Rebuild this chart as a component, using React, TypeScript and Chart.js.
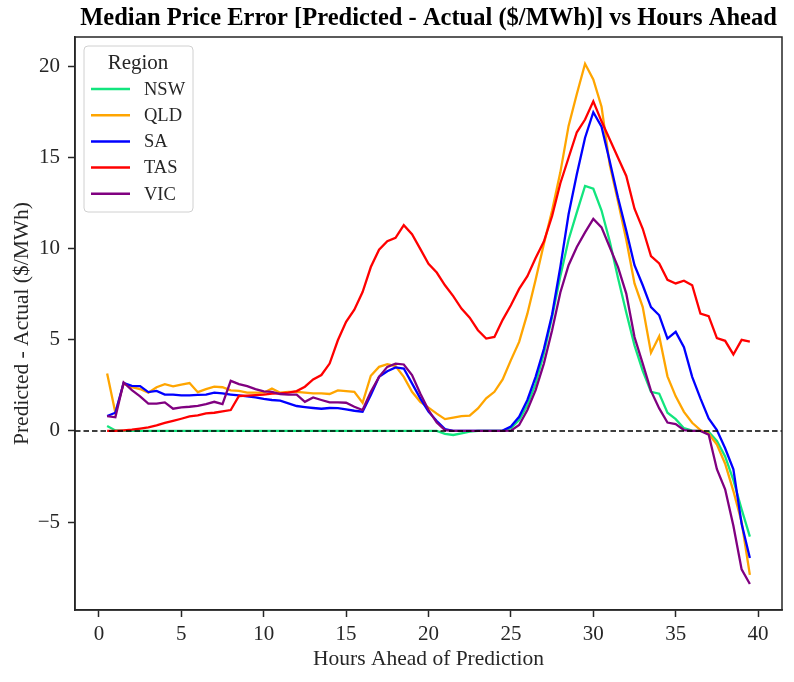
import React, { useEffect, useRef } from "react";
import { Chart, registerables } from "chart.js";

Chart.register(...registerables);

const FONT = "'Liberation Serif', 'Times New Roman', serif";
const INK = "#262626";

const chartTitle = "Median Price Error [Predicted - Actual ($/MWh)] vs Hours Ahead";
const xAxisTitle = "Hours Ahead of Prediction";
const yAxisTitle = "Predicted - Actual ($/MWh)";
const legendTitle = "Region";

const hours = [
  0.5, 1, 1.5, 2, 2.5, 3, 3.5, 4, 4.5, 5, 5.5, 6, 6.5, 7, 7.5, 8, 8.5, 9, 9.5, 10,
  10.5, 11, 11.5, 12, 12.5, 13, 13.5, 14, 14.5, 15, 15.5, 16, 16.5, 17, 17.5, 18, 18.5, 19, 19.5, 20,
  20.5, 21, 21.5, 22, 22.5, 23, 23.5, 24, 24.5, 25, 25.5, 26, 26.5, 27, 27.5, 28, 28.5, 29, 29.5, 30,
  30.5, 31, 31.5, 32, 32.5, 33, 33.5, 34, 34.5, 35, 35.5, 36, 36.5, 37, 37.5, 38, 38.5, 39, 39.5,
];

const xTicks = [0, 5, 10, 15, 20, 25, 30, 35, 40];
const yTicks = [-5, 0, 5, 10, 15, 20];

const regions = ["NSW", "QLD", "SA", "TAS", "VIC"];
const regionColors = ["#12e57e", "#ffa500", "#0000ff", "#ff0000", "#800080"];

const nsw = [
  0.27, 0.03, 0, 0, 0, 0, 0, 0, 0, 0, 0, 0, 0, 0, 0, 0, 0, 0, 0, 0,
  0, 0, 0, 0, 0, 0, 0, 0, 0, 0, 0, 0, 0, 0, 0, 0, 0, 0, 0, 0,
  0, -0.16, -0.22, -0.13, -0.04, 0, 0, 0, 0.02, 0.15, 0.6, 1.42, 2.6, 4.25, 6.26, 8.5, 10.5, 12.0, 13.45, 13.3,
  12.1, 10.4, 8.4, 6.5, 4.7, 3.3, 2.15, 2.05, 1.0, 0.65, 0.15, 0.02, 0, -0.05, -0.55, -1.4, -2.7, -4.3, -5.8,
];

const qld = [
  3.16, 1.0, 2.6, 2.4, 2.3, 2.1, 2.4, 2.57, 2.45, 2.55, 2.63, 2.13, 2.3, 2.43, 2.4, 2.23, 2.2, 2.1, 2.1, 2.1,
  2.33, 2.1, 2.15, 2.15, 2.1, 2.06, 2.06, 2.03, 2.23, 2.19, 2.15, 1.55, 3.03, 3.52, 3.67, 3.56, 2.97, 2.15, 1.6, 1.28,
  0.95, 0.65, 0.73, 0.82, 0.84, 1.24, 1.79, 2.15, 2.83, 3.89, 4.89, 6.44, 8.3, 10.27, 12.1, 14.2, 16.75, 18.5, 20.16, 19.3,
  17.8, 14.6, 12.6, 10.5, 8.1, 6.8, 4.3, 5.2, 3.0, 1.9, 1.05, 0.45, 0.05, -0.15, -0.75, -1.8, -3.3, -5.0, -7.9,
];

const sa = [
  0.82, 1.0, 2.63, 2.48, 2.46, 2.13, 2.2, 2.0, 2.0, 1.95, 1.95, 1.98, 2.0, 2.1, 2.06, 2.0, 1.95, 1.9, 1.85, 1.76,
  1.7, 1.66, 1.51, 1.37, 1.31, 1.26, 1.22, 1.26, 1.25, 1.19, 1.11, 1.06, 1.97, 2.97, 3.28, 3.49, 3.43, 2.61, 1.79, 1.06,
  0.55, 0.1, 0, 0, 0, 0, 0, 0, 0.02, 0.24, 0.78, 1.7, 2.97, 4.5, 6.4, 9.0, 11.9, 14.1, 16.1, 17.5,
  16.7, 14.8, 12.8, 11.0, 9.1, 8.0, 6.8, 6.35, 5.07, 5.44, 4.6, 2.97, 1.79, 0.69, 0.05, -0.95, -2.1, -5.1, -6.97,
];

const tas = [
  0, 0, 0.03, 0.07, 0.13, 0.2, 0.31, 0.44, 0.55, 0.67, 0.8, 0.86, 0.97, 1.0, 1.08, 1.15, 1.92, 1.94, 1.97, 2.0,
  2.05, 2.06, 2.1, 2.19, 2.43, 2.83, 3.07, 3.7, 4.98, 5.99, 6.66, 7.63, 9.0, 9.95, 10.42, 10.6, 11.3, 10.8, 10.0, 9.18,
  8.7, 8.0, 7.4, 6.72, 6.22, 5.53, 5.07, 5.16, 6.1, 6.9, 7.8, 8.5, 9.5, 10.4, 11.8, 13.6, 15.0, 16.4, 17.1, 18.1,
  17.0, 16.0, 15.0, 14.0, 12.2, 11.1, 9.6, 9.2, 8.3, 8.1, 8.25, 8.0, 6.45, 6.3, 5.1, 4.95, 4.2, 5.0, 4.9,
];

const vic = [
  0.82, 0.75, 2.66, 2.24, 1.9, 1.5, 1.5, 1.57, 1.22, 1.3, 1.33, 1.38, 1.47, 1.6, 1.47, 2.75, 2.57, 2.46, 2.3, 2.17,
  2.15, 2.03, 2.0, 2.0, 1.6, 1.84, 1.7, 1.57, 1.57, 1.55, 1.33, 1.15, 2.15, 2.97, 3.52, 3.7, 3.65, 3.07, 2.06, 1.15,
  0.46, 0.05, 0, 0, 0, 0, 0, 0, 0, 0.02, 0.33, 1.15, 2.24, 3.7, 5.53, 7.6, 9.1, 10.1, 10.9, 11.64,
  11.18, 10.09, 9.0, 7.54, 5.16, 3.7, 2.2, 1.24, 0.46, 0.38, 0.05, 0, 0, -0.2, -2.1, -3.2, -5.2, -7.6, -8.4,
];

const seriesValues = [nsw, qld, sa, tas, vic];

const overlayPlugin = {
  id: "overlay",
  afterDatasetsDraw(chart: any) {
    const { ctx, chartArea, scales } = chart;
    // zero reference line
    const y0 = scales.y.getPixelForValue(0);
    ctx.save();
    ctx.strokeStyle = "#000000";
    ctx.lineWidth = 1.5;
    ctx.setLineDash([5.5, 3]);
    ctx.beginPath();
    ctx.moveTo(chartArea.left, y0);
    ctx.lineTo(chartArea.right, y0);
    ctx.stroke();
    ctx.restore();
  },
  afterDraw(chart: any) {
    const { ctx, chartArea } = chart;
    ctx.save();
    // full frame (top and right spines)
    ctx.strokeStyle = INK;
    ctx.lineWidth = 1.5;
    ctx.strokeRect(chartArea.left, chartArea.top, chartArea.right - chartArea.left, chartArea.bottom - chartArea.top);

    // title
    ctx.fillStyle = "#000000";
    ctx.font = `bold 24.5px ${FONT}`;
    ctx.textAlign = "center";
    ctx.textBaseline = "middle";
    ctx.fillText(chartTitle, (chartArea.left + chartArea.right) / 2, 19);

    // legend box
    const bx = chartArea.left + 9;
    const by = chartArea.top + 9;
    const bw = 109;
    const bh = 166;
    const r = 4;
    ctx.beginPath();
    ctx.moveTo(bx + r, by);
    ctx.lineTo(bx + bw - r, by);
    ctx.quadraticCurveTo(bx + bw, by, bx + bw, by + r);
    ctx.lineTo(bx + bw, by + bh - r);
    ctx.quadraticCurveTo(bx + bw, by + bh, bx + bw - r, by + bh);
    ctx.lineTo(bx + r, by + bh);
    ctx.quadraticCurveTo(bx, by + bh, bx, by + bh - r);
    ctx.lineTo(bx, by + r);
    ctx.quadraticCurveTo(bx, by, bx + r, by);
    ctx.closePath();
    ctx.fillStyle = "rgba(255,255,255,0.8)";
    ctx.fill();
    ctx.strokeStyle = "#d0d0d0";
    ctx.lineWidth = 1;
    ctx.stroke();

    ctx.fillStyle = INK;
    ctx.font = `21px ${FONT}`;
    ctx.textAlign = "center";
    ctx.fillText(legendTitle, bx + 54, by + 17);

    ctx.font = `18.5px ${FONT}`;
    ctx.textAlign = "left";
    chart.data.datasets.forEach((ds: any, i: number) => {
      const yy = by + 43 + i * 26.2;
      ctx.strokeStyle = ds.borderColor;
      ctx.lineWidth = 2.5;
      ctx.beginPath();
      ctx.moveTo(bx + 7, yy);
      ctx.lineTo(bx + 46, yy);
      ctx.stroke();
      ctx.fillStyle = INK;
      ctx.fillText(ds.label, bx + 60, yy + 1);
    });
    ctx.restore();
  },
};

export default function App() {
  const canvasRef = useRef<HTMLCanvasElement | null>(null);

  useEffect(() => {
    document.body.style.margin = "0";
    const canvas = canvasRef.current;
    if (!canvas) return;
    const datasets = regions.map((name, i) => ({
      label: name,
      data: hours.map((h, j) => ({ x: h, y: seriesValues[i][j] })),
      borderColor: regionColors[i],
      backgroundColor: regionColors[i],
      borderWidth: 2.3,
      pointRadius: 0,
      tension: 0,
      fill: false,
      order: regions.length - 1 - i,
    }));

    const chart = new Chart(canvas, {
      type: "line",
      data: { datasets },
      options: {
        animation: false,
        responsive: false,
        devicePixelRatio: 1,
        layout: { padding: { top: 37, right: 12, left: 0, bottom: 0 } },
        plugins: {
          legend: { display: false },
          title: { display: false },
          tooltip: { enabled: false },
        },
        scales: {
          x: {
            type: "linear",
            min: -1.45,
            max: 41.45,
            afterBuildTicks: (s: any) => {
              s.ticks = xTicks.map((v) => ({ value: v }));
            },
            afterFit: (s: any) => {
              s.height = 72;
            },
            ticks: {
              font: { family: FONT, size: 21 },
              color: INK,
              padding: 5,
              maxRotation: 0,
              autoSkip: false,
            },
            grid: {
              display: true,
              drawOnChartArea: false,
              drawTicks: true,
              tickLength: 7,
              tickWidth: 1.5,
              tickColor: INK,
            },
            border: { display: true, color: INK, width: 1.5 },
            title: {
              display: true,
              text: xAxisTitle,
              font: { family: FONT, size: 21.5 },
              color: INK,
              padding: { top: 0, bottom: 10 },
            },
          },
          y: {
            type: "linear",
            min: -9.83,
            max: 21.63,
            afterBuildTicks: (s: any) => {
              s.ticks = yTicks.map((v) => ({ value: v }));
            },
            afterFit: (s: any) => {
              s.width = 75;
            },
            ticks: {
              font: { family: FONT, size: 21 },
              color: INK,
              padding: 8,
              callback: (v: any) => (Number(v) < 0 ? "\u2212" + Math.abs(Number(v)) : String(v)),
            },
            grid: {
              display: true,
              drawOnChartArea: false,
              drawTicks: true,
              tickLength: 7,
              tickWidth: 1.5,
              tickColor: INK,
            },
            border: { display: true, color: INK, width: 1.5 },
            title: {
              display: true,
              text: yAxisTitle,
              font: { family: FONT, size: 21.5 },
              color: INK,
              padding: { top: 9, bottom: 0 },
            },
          },
        },
      },
      plugins: [overlayPlugin],
    });
    return () => chart.destroy();
  }, []);

  return (
    <div style={{ width: 794, height: 682, position: "relative" }}>
      <canvas ref={canvasRef} width={794} height={682} style={{ width: 794, height: 682, display: "block" }} />
    </div>
  );
}
